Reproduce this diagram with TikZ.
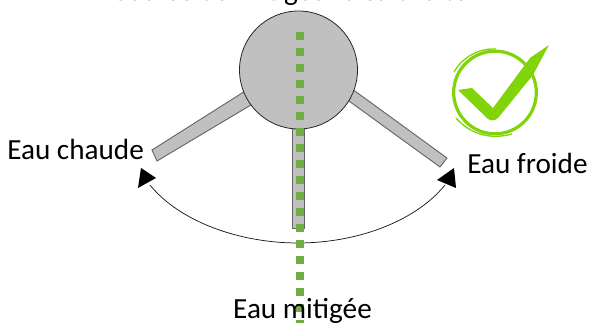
\documentclass[tikz,border=0pt]{standalone}
\usepackage{fontspec}
\setmainfont{Carlito}
\definecolor{checkgreen}{RGB}{130,212,10}
\definecolor{dotgreen}{RGB}{112,173,71}
\definecolor{bodygray}{RGB}{192,192,192}
\tikzset{
  px/.style={x=0.75pt,y=-0.75pt},
  lab/.style={inner sep=0pt,font=\fontsize{21.9}{24}\selectfont,text=black},
  handle/.style={draw=black!60,line width=0.7pt,fill=bodygray},
  disc/.style={circle,draw=black!85,fill=bodygray,line width=0.6pt,minimum size=88.5pt,inner sep=0pt},
  arcline/.style={draw=black!90,line width=0.55pt},
  tip/.style={fill=black,draw=none},
  dots/.style={draw=dotgreen,line width=6pt,dash pattern=on 6pt off 6pt},
  ring/.style={draw=checkgreen,line width=2.4pt,line cap=round}
}
\begin{document}
\begin{tikzpicture}[px]
\useasboundingbox (0,0) rectangle (590,323);
\clip (0,0) rectangle (590,323);
% handles
\draw[handle] (250,88) -- (152,150) -- (157,161) -- (256,102) -- cycle;
\draw[handle] (348,86) -- (447,158) -- (440,167) -- (342,96) -- cycle;
\draw[handle] (292,120) rectangle (304,228);
\node[disc] (body) at (298.5,70) {};
% range arc
\coordinate (al) at (150,185);
\coordinate (ar) at (445,185);
\coordinate (am) at (298,243);
\draw[arcline] (al) .. controls (180,222) and (240,243) .. (am) .. controls (356,243) and (415,222) .. (ar);
\fill[tip] (141,168) -- (156,178) -- (138,188) -- cycle;
\fill[tip] (454,168) -- (437,180) -- (456,188) -- cycle;
% centre dotted line
\coordinate (ds) at (300,32);
\coordinate (de) at (300,323);
\draw[dots] (ds) -- (de);
% check mark
\node[circle,ring,minimum size=62pt,inner sep=0pt] (ringnode) at (495,92.5) {};
\draw[checkgreen,line width=1pt] (456,118) .. controls (470,134) and (490,140) .. (512,134);
\draw[checkgreen,line width=1pt] (454,72) .. controls (462,58) and (478,48) .. (496,49);
\fill[checkgreen] (458,90) -- (472,88) -- (493,108) -- (530,58) -- (549,45) -- (533,75) -- (498,118) .. controls (495,121) and (491,121) .. (488,119) -- cycle;
% text
\node[lab,anchor=base] (top) at (290,0.5) {Course du mitigeur à sa droite};
\node[lab,anchor=base west] (hot) at (7,160) {Eau chaude};
\node[lab,anchor=base west] (cold) at (467,174) {Eau froide};
\node[lab,anchor=base] (mix) at (302.5,319) {Eau mitigée};
\end{tikzpicture}
\end{document}
